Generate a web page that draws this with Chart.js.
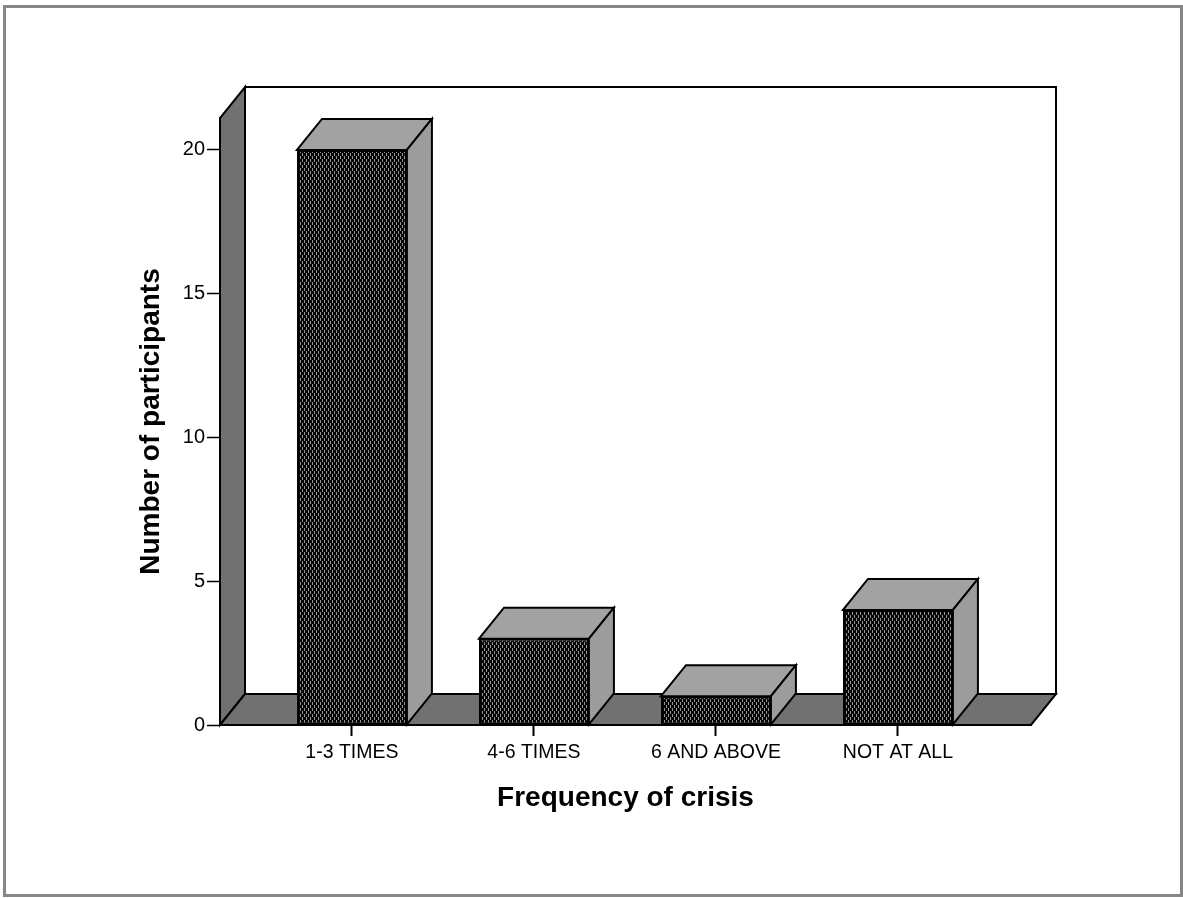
<!DOCTYPE html>
<html>
<head>
<meta charset="utf-8">
<script src="https://cdn.jsdelivr.net/npm/chart.js@4.4.1/dist/chart.umd.min.js"></script>
<style>
  html, body { margin: 0; padding: 0; background: #ffffff; }
  #wrap { width: 1183px; height: 898px; position: relative; }
</style>
</head>
<body>
<div id="wrap"><canvas id="chart" width="1183" height="898"></canvas></div>
<script>
// Frequency of crisis among participants
const categories = ['1-3 TIMES', '4-6 TIMES', '6 AND ABOVE', 'NOT AT ALL'];
const participants = [20, 3, 1, 4];
const yTickValues = [0, 5, 10, 15, 20];
const xAxisTitle = 'Frequency of crisis';
const yAxisTitle = 'Number of participants';

// 3D look: depth offset of the floor, wall and bar boxes
const DEPTH_X = 25;
const DEPTH_Y = 31;

const canvas = document.getElementById('chart');
const ctx2d = canvas.getContext('2d');

// staggered dotted fill for the bar fronts
function makeDotPattern() {
  const tile = document.createElement('canvas');
  tile.width = 4;
  tile.height = 6;
  const g = tile.getContext('2d');
  g.fillStyle = '#050505';
  g.fillRect(0, 0, 4, 6);
  g.fillStyle = '#959595';
  g.fillRect(0, 0, 1, 3);
  g.fillRect(2, 3, 1, 3);
  return ctx2d.createPattern(tile, 'repeat');
}

function polygon(ctx, pts, fill) {
  ctx.beginPath();
  ctx.moveTo(pts[0][0], pts[0][1]);
  for (let i = 1; i < pts.length; i++) ctx.lineTo(pts[i][0], pts[i][1]);
  ctx.closePath();
  ctx.fillStyle = fill;
  ctx.fill();
  ctx.stroke();
}

const frame3d = {
  id: 'frame3d',
  beforeDraw(chart) {
    const { ctx, chartArea: a, width, height } = chart;
    ctx.save();
    ctx.fillStyle = '#ffffff';
    ctx.fillRect(0, 0, width, height);
    // outer border
    ctx.strokeStyle = '#868686';
    ctx.lineWidth = 3;
    ctx.strokeRect(4.5, 6.5, width - 6, height - 9);

    ctx.strokeStyle = '#000000';
    ctx.lineWidth = 2;
    ctx.lineJoin = 'miter';
    // back wall
    ctx.fillStyle = '#ffffff';
    ctx.fillRect(a.left + DEPTH_X, a.top - DEPTH_Y, a.right - a.left, a.bottom - a.top);
    ctx.strokeRect(a.left + DEPTH_X, a.top - DEPTH_Y, a.right - a.left, a.bottom - a.top);
    // left wall
    polygon(ctx, [
      [a.left, a.bottom], [a.left, a.top],
      [a.left + DEPTH_X, a.top - DEPTH_Y], [a.left + DEPTH_X, a.bottom - DEPTH_Y]
    ], '#717171');
    // floor
    polygon(ctx, [
      [a.left, a.bottom], [a.left + DEPTH_X, a.bottom - DEPTH_Y],
      [a.right + DEPTH_X, a.bottom - DEPTH_Y], [a.right, a.bottom]
    ], '#717171');
    ctx.restore();
  },
  afterDatasetsDraw(chart) {
    const { ctx } = chart;
    const meta = chart.getDatasetMeta(0);
    ctx.save();
    ctx.strokeStyle = '#000000';
    ctx.lineWidth = 2;
    ctx.lineJoin = 'miter';
    meta.data.forEach(bar => {
      const { x, y, base, width } = bar.getProps(['x', 'y', 'base', 'width'], true);
      const L = x - width / 2, R = x + width / 2;
      // top face
      polygon(ctx, [[L, y], [L + DEPTH_X, y - DEPTH_Y], [R + DEPTH_X, y - DEPTH_Y], [R, y]], '#a2a2a2');
      // right side face
      polygon(ctx, [[R, y], [R + DEPTH_X, y - DEPTH_Y], [R + DEPTH_X, base - DEPTH_Y], [R, base]], '#9c9c9c');
    });
    ctx.restore();
  }
};

const X_PAD_LEFT = 0.725;
const X_PAD_RIGHT = 0.731;

new Chart(canvas, {
  type: 'bar',
  data: {
    datasets: [{
      data: participants.map((v, i) => ({ x: i + 1, y: v })),
      backgroundColor: makeDotPattern(),
      borderColor: '#000000',
      borderWidth: 2,
      borderSkipped: false,
      categoryPercentage: 1,
      barPercentage: 0.604
    }]
  },
  options: {
    responsive: false,
    devicePixelRatio: 1,
    animation: false,
    layout: { padding: { left: 134, right: 152, top: 118, bottom: 83 } },
    plugins: {
      legend: { display: false },
      tooltip: { enabled: false }
    },
    scales: {
      x: {
        type: 'linear',
        offset: false,
        min: 1 - X_PAD_LEFT,
        max: categories.length + X_PAD_RIGHT,
        afterBuildTicks(scale) {
          scale.ticks = categories.map((_, i) => ({ value: i + 1 }));
        },
        afterFit(scale) { scale.height = 90; },
        grid: {
          offset: false,
          drawOnChartArea: false,
          drawTicks: true,
          tickLength: 11,
          tickWidth: 2,
          tickColor: '#000000'
        },
        border: { display: true, color: '#000000', width: 2 },
        ticks: {
          autoSkip: false,
          maxRotation: 0,
          padding: 5,
          color: '#000000',
          font: { family: '"Liberation Sans", Arial, sans-serif', size: 19.5 },
          callback: (v, i) => categories[i]
        },
        title: {
          display: true,
          text: xAxisTitle,
          color: '#000000',
          padding: 0,
          font: { family: '"Liberation Sans", Arial, sans-serif', size: 28, weight: 'bold' }
        }
      },
      y: {
        min: 0,
        max: 21.11,
        afterBuildTicks(scale) {
          scale.ticks = yTickValues.map(v => ({ value: v }));
        },
        afterFit(scale) { scale.width = 86; },
        grid: {
          drawOnChartArea: false,
          drawTicks: true,
          tickLength: 13,
          tickWidth: 1.5,
          tickColor: '#000000'
        },
        border: { display: true, color: '#000000', width: 2 },
        ticks: {
          padding: 2,
          color: '#000000',
          font: { family: '"Liberation Sans", Arial, sans-serif', size: 20 }
        },
        title: {
          display: true,
          text: yAxisTitle,
          color: '#000000',
          padding: 0,
          font: { family: '"Liberation Sans", Arial, sans-serif', size: 28, weight: 'bold' }
        }
      }
    }
  },
  plugins: [frame3d]
});
</script>
</body>
</html>
